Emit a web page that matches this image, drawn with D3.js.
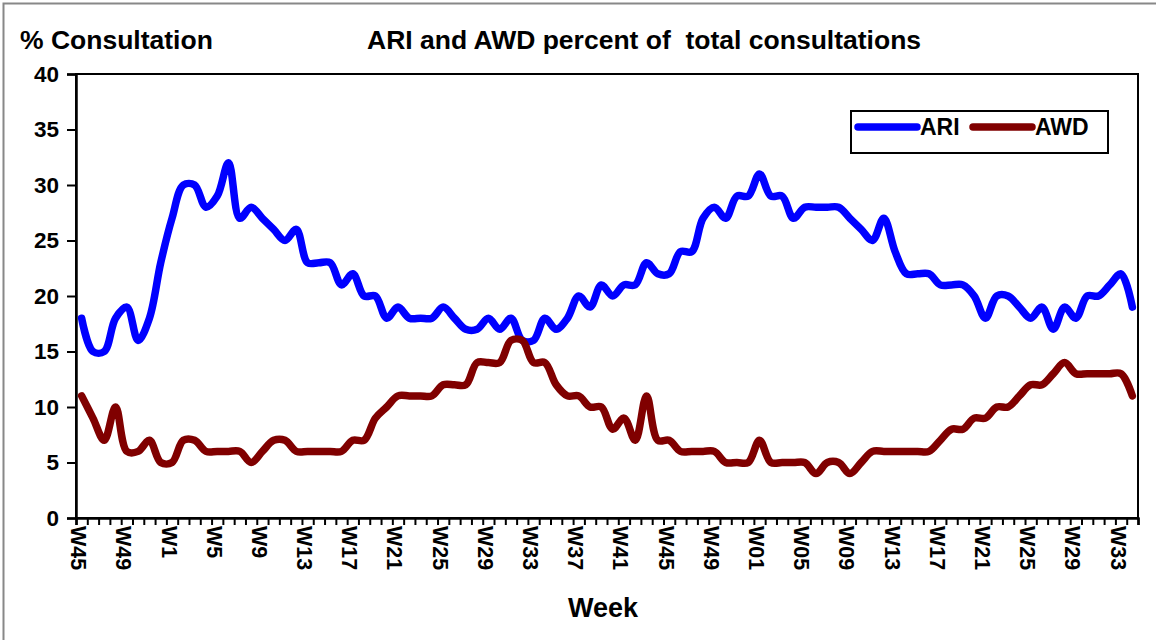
<!DOCTYPE html>
<html>
<head>
  <meta charset="utf-8">
  <script src="https://d3js.org/d3.v7.min.js"></script>
  <style>
    body { margin: 0; background: #fff; }
    text { font-family: "Liberation Sans", Arial, sans-serif; font-weight: bold; fill: #000; }
    .line { fill: none; stroke-width: 7.5; stroke-linejoin: round; stroke-linecap: round; }
  </style>
</head>
<body>
<div id="chartArea"></div>
<script>
// week categories (Nov of year 1 to Aug of year 3)
var weeks = ["W45","W46","W47","W48","W49","W50","W51","W52",
  "W1","W2","W3","W4","W5","W6","W7","W8","W9","W10","W11","W12","W13","W14","W15","W16",
  "W17","W18","W19","W20","W21","W22","W23","W24","W25","W26","W27","W28","W29","W30","W31","W32",
  "W33","W34","W35","W36","W37","W38","W39","W40","W41","W42","W43","W44","W45 ","W46 ","W47 ","W48 ",
  "W49 ","W50 ","W51 ","W52 ",
  "W01","W02","W03","W04","W05","W06","W07","W08","W09","W10 ","W11 ","W12 ","W13 ","W14 ","W15 ","W16 ",
  "W17 ","W18 ","W19 ","W20 ","W21 ","W22 ","W23 ","W24 ","W25 ","W26 ","W27 ","W28 ","W29 ","W30 ","W31 ","W32 ",
  "W33 ","W34 "];

var ari = [18,15,15,18,19,16,18,23,27,30,30,28,29,32,27,28,27,26,25,26,23,23,23,21,22,20,20,18,19,18,18,18,
  19,18,17,17,18,17,18,16,16,18,17,18,20,19,21,20,21,21,23,22,22,24,24,27,28,27,29,29,
  31,29,29,27,28,28,28,28,27,26,25,27,24,22,22,22,21,21,21,20,18,20,20,19,18,19,17,19,18,20,20,21,22,19];

var awd = [11,9,7,10,6,6,7,5,5,7,7,6,6,6,6,5,6,7,7,6,6,6,6,6,7,7,9,10,11,11,11,11,
  12,12,12,14,14,14,16,16,14,14,12,11,11,10,10,8,9,7,11,7,7,6,6,6,6,5,5,5,
  7,5,5,5,5,4,5,5,4,5,6,6,6,6,6,6,7,8,8,9,9,10,10,11,12,12,13,14,13,13,13,13,13,11];

var yTicks = [0,5,10,15,20,25,30,35,40];

var series = [
  {name: "ARI", values: ari, color: "#0000ff"},
  {name: "AWD", values: awd, color: "#800000"}
];

var w = 1156, h = 640;
var plotLeft = 76, plotRight = 1138, plotTop = 74, plotBottom = 518;

var svg = d3.select("#chartArea").append("svg")
  .attr("width", w).attr("height", h);

// outer frame
svg.append("rect").attr("x", 3.5).attr("y", 3.5).attr("width", w + 10).attr("height", h + 10)
  .attr("fill", "none").attr("stroke", "#888").attr("stroke-width", 2);

var xScale = d3.scaleBand().domain(weeks).range([plotLeft, plotRight]);
var tickScale = d3.scaleLinear().domain([0, weeks.length]).range([plotLeft, plotRight]);
var yScale = d3.scaleLinear().domain([0, 40]).range([plotBottom, plotTop]);

// plot border
svg.append("rect").attr("x", plotLeft).attr("y", plotTop)
  .attr("width", plotRight - plotLeft).attr("height", plotBottom - plotTop)
  .attr("fill", "none").attr("stroke", "#000").attr("stroke-width", 2);

// y axis
var yAxis = d3.axisLeft(yScale).tickValues(yTicks).tickSize(9).tickPadding(8);
var gy = svg.append("g").attr("transform", "translate(" + plotLeft + ",0)").call(yAxis);
gy.select(".domain").attr("stroke-width", 2.5);
gy.selectAll(".tick line").attr("stroke-width", 2);
gy.selectAll("text").style("font-size", "22.5px").style("font-family", "Liberation Sans, Arial").style("font-weight", "bold");

// x tick marks, one per week
var xTickAxis = d3.axisBottom(tickScale).tickValues(d3.range(weeks.length + 1)).tickSize(7).tickFormat("");
var gx = svg.append("g").attr("transform", "translate(0," + plotBottom + ")").call(xTickAxis);
gx.select(".domain").attr("stroke-width", 2.5);
gx.selectAll(".tick line").attr("stroke-width", 2);

// x labels every 4 weeks, rotated
var xLabelAxis = d3.axisBottom(xScale)
  .tickValues(weeks.filter(function(d, i) { return i % 4 === 0; }))
  .tickSize(0)
  .tickFormat(function(d) { return d.trim(); });
var gl = svg.append("g").attr("transform", "translate(-3," + plotBottom + ")").call(xLabelAxis);
gl.select(".domain").remove();
gl.selectAll("text")
  .attr("transform", "rotate(90)")
  .attr("x", 8).attr("y", 0).attr("dy", "0.35em")
  .attr("text-anchor", "start")
  .style("font-size", "21.5px").style("font-family", "Liberation Sans, Arial").style("font-weight", "bold");

// lines
var line = d3.line()
  .x(function(d, i) { return xScale(weeks[i]) + xScale.bandwidth() / 2; })
  .y(function(d) { return yScale(d); })
  .curve(d3.curveCatmullRom.alpha(0.5));

svg.selectAll(".line").data(series).enter().append("path")
  .attr("class", "line")
  .attr("stroke", function(d) { return d.color; })
  .attr("d", function(d) { return line(d.values); });

// titles
svg.append("text").attr("x", 20).attr("y", 49).text("% Consultation").style("font-size", "26.5px");
svg.append("text").attr("x", 367).attr("y", 49).text("ARI and AWD percent of  total consultations")
  .style("font-size", "26.5px").style("white-space", "pre");
svg.append("text").attr("x", 603).attr("y", 617).attr("text-anchor", "middle").text("Week").style("font-size", "27px");

// legend
var lg = svg.append("g");
lg.append("rect").attr("x", 851).attr("y", 111).attr("width", 257).attr("height", 42)
  .attr("fill", "#fff").attr("stroke", "#000").attr("stroke-width", 2);
var items = [{s: series[0], x: 858}, {s: series[1], x: 973}];
items.forEach(function(it) {
  lg.append("line").attr("x1", it.x).attr("x2", it.x + 59).attr("y1", 127).attr("y2", 127)
    .attr("stroke", it.s.color).attr("stroke-width", 7.5).attr("stroke-linecap", "round");
  lg.append("text").attr("x", it.x + 62).attr("y", 135).text(it.s.name).style("font-size", "23px");
});
</script>
</body>
</html>
